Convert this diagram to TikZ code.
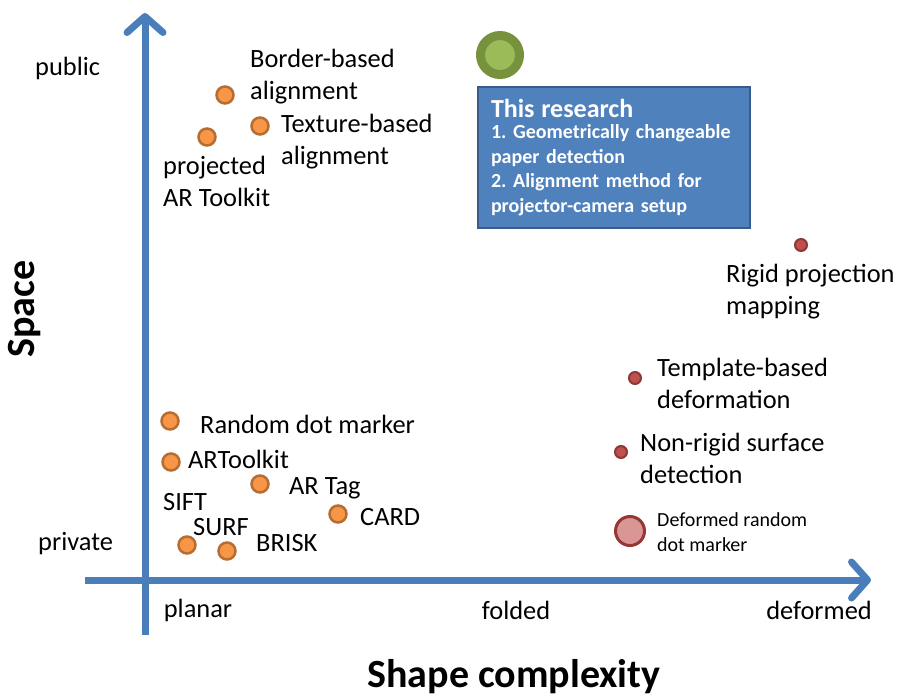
\documentclass[tikz,border=0pt]{standalone}
\usepackage{fontspec}
\setmainfont{Carlito}
\frenchspacing
\usetikzlibrary{arrows.meta}
\definecolor{axisblue}{HTML}{4A7EBB}
\definecolor{boxblue}{HTML}{4F81BD}
\definecolor{boxedge}{HTML}{385D8A}
\definecolor{orfill}{HTML}{F79646}
\definecolor{oredge}{HTML}{B66D31}
\definecolor{rdfill}{HTML}{C0504D}
\definecolor{rdedge}{HTML}{8C3836}
\definecolor{pkfill}{HTML}{D99694}
\definecolor{pkedge}{HTML}{953735}
\definecolor{gnfill}{HTML}{9BBB59}
\definecolor{gnedge}{HTML}{76923C}
\tikzset{
  axisline/.style={draw=axisblue, line width=7pt, -{Straight Barb[length=16pt,width=36pt,round]}},
  odot/.style={circle, draw=oredge, fill=orfill, line width=2.5pt, minimum size=17pt, inner sep=0pt},
  rdot/.style={circle, draw=rdedge, fill=rdfill, line width=2pt, minimum size=12pt, inner sep=0pt},
  pdot/.style={circle, draw=pkedge, fill=pkfill, line width=3pt, minimum size=29pt, inner sep=0pt},
  gdot/.style={circle, draw=gnedge, fill=gnfill, line width=9pt, minimum size=39pt, inner sep=0pt},
  lbl/.style={anchor=west, inner sep=0pt, align=left, font=\fontsize{26.4}{32}\selectfont},
  slbl/.style={anchor=west, inner sep=0pt, align=left, font=\fontsize{20}{25}\selectfont},
  axlbl/.style={inner sep=0pt, font=\bfseries\fontsize{40}{44}\selectfont},
}
\begin{document}
\begin{tikzpicture}[x=1pt,y=-1pt]
\useasboundingbox (0,0) rectangle (900,697);
% axes
\coordinate (ybot) at (145,635);
\coordinate (ytop) at (145,13);
\coordinate (xleft) at (85,580);
\coordinate (xright) at (871,580);
\draw[axisline] (ybot) -- (ytop);
\draw[axisline] (xleft) -- (xright);
% axis labels
\node[lbl] (public) at (35,68) {public};
\node[lbl] (private) at (38,544) {private};
\node[lbl, anchor=center] (planar) at (198,610) {planar};
\node[lbl, anchor=center] (folded) at (516,610) {folded};
\node[lbl, anchor=center] (deformed) at (819,610) {deformed};
\node[axlbl] (xtitle) at (514,677) {Shape complexity};
\node[axlbl, rotate=90] (ytitle) at (25,309) {Space};
% this research
\node[gdot] (green) at (500,55) {};
\node[draw=boxedge, fill=boxblue, line width=2pt, anchor=north west, text width=246pt, minimum height=141pt, inner xsep=13pt, inner ysep=6pt, align=left, text=white, font=\bfseries\fontsize{20}{24.5}\selectfont] (box) at (477,86)
  {{\fontsize{26}{26}\selectfont This research}\\[-3pt]
   1. Geometrically changeable\\ paper detection\\ 2. Alignment method for\\ projector-camera setup};
% orange dots
\node[odot] (bba) at (225,95) {};
\node[odot] (par) at (207,137) {};
\node[odot] (tba) at (260,126) {};
\node[odot] (rdm) at (170,421) {};
\node[odot] (art) at (171,462) {};
\node[odot] (atg) at (260,484) {};
\node[odot] (crd) at (338,514) {};
\node[odot] (srf) at (187,545) {};
\node[odot] (brk) at (227,551) {};
% red dots
\node[rdot] (rpm) at (801,245) {};
\node[rdot] (tbd) at (635,378) {};
\node[rdot] (nrs) at (621,452) {};
\node[pdot] (drd) at (630,531) {};
% labels
\node[lbl] (tbba) at (250,77) {Border-based\\alignment};
\node[lbl] (ttba) at (281,142) {Texture-based\\alignment};
\node[lbl] (tpar) at (163,181) {projected\\AR Toolkit};
\node[lbl] (trpm) at (726,292) {Rigid projection\\mapping};
\node[lbl] (ttbd) at (657,383) {Template-based\\deformation};
\node[lbl] (tnrs) at (640,458) {Non-rigid surface\\detection};
\node[slbl] (tdrd) at (657,532) {Deformed random\\dot marker};
\node[lbl] (trdm) at (200,424) {Random dot marker};
\node[lbl] (tart) at (188,459) {ARToolkit};
\node[lbl] (tatg) at (289,488) {AR Tag};
\node[lbl] (tsift) at (163,502) {SIFT};
\node[lbl] (tsrf) at (193,527) {SURF};
\node[lbl] (tbrk) at (256,543) {BRISK};
\node[lbl] (tcrd) at (360,517) {CARD};
\end{tikzpicture}
\end{document}
